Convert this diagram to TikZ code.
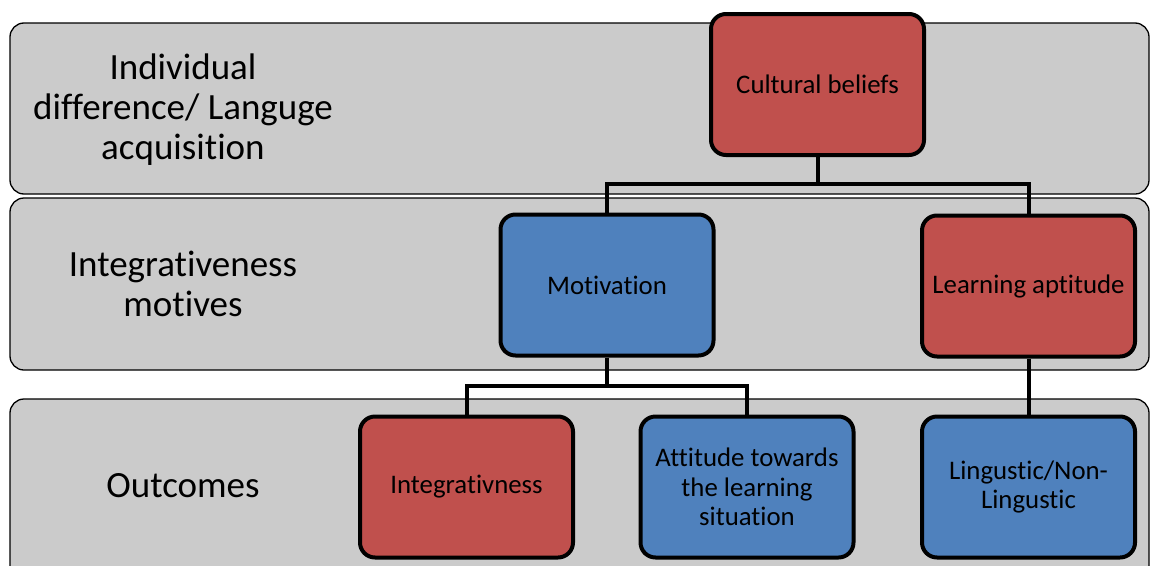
\documentclass[tikz,border=0pt]{standalone}
\usepackage{fontspec}
\setmainfont{Carlito}[Ligatures={NoCommon}]
\definecolor{bandgray}{HTML}{CBCBCB}
\definecolor{boxred}{HTML}{C0504D}
\definecolor{boxblue}{HTML}{4F81BD}
\tikzset{
  band/.style={draw=black, line width=1.3pt, fill=bandgray, rounded corners=14pt},
  bandlabel/.style={align=center, font=\fontsize{37}{40}\selectfont, text=black},
  box/.style={draw=black, line width=4pt, rounded corners=15pt, minimum width=213pt, minimum height=141pt, align=center, font=\fontsize{26.8}{29.5}\selectfont, inner sep=2pt},
  redbox/.style={box, fill=boxred},
  bluebox/.style={box, fill=boxblue},
  link/.style={draw=black, line width=4pt}
}
\begin{document}
\begin{tikzpicture}[x=1pt, y=-1pt]
\useasboundingbox (0,0) rectangle (1150,565);
\begin{scope}
\clip (0,0) rectangle (1150,565);
\draw[band] (10,23) rectangle (1149,194);
\draw[band] (10,198) rectangle (1149,370);
\draw[band] (10,399) rectangle (1149,590);
\end{scope}
\node[bandlabel] (l1) at (183,110) {Individual\\difference/ Languge\\acquisition};
\node[bandlabel] (l2) at (183,284) {Integrativeness\\motives};
\node[bandlabel] (l3) at (183,486) {Outcomes};

\node[redbox] (cb) at (817.5,84.5) {Cultural beliefs};
\node[bluebox] (mo) at (607,285) {Motivation};
\node[redbox] (la) at (1028.5,286) {Learning aptitude};
\node[redbox] (in) at (466.5,487) {Integrativness};
\node[bluebox] (at) at (747,487) {Attitude towards\\the learning\\situation};
\node[bluebox] (li) at (1028.5,487) {Lingustic/Non-\\Lingustic};

\coordinate (j1) at (817.5,184);
\coordinate (j2) at (607,386);
\draw[link] (cb.south) -- (j1);
\draw[link] (mo.north) -- (mo.north |- j1) -- (la.north |- j1) -- (la.north);
\draw[link] (mo.south) -- (j2);
\draw[link] (in.north) -- (in.north |- j2) -- (at.north |- j2) -- (at.north);
\draw[link] (la.south) -- (li.north);
\end{tikzpicture}
\end{document}
